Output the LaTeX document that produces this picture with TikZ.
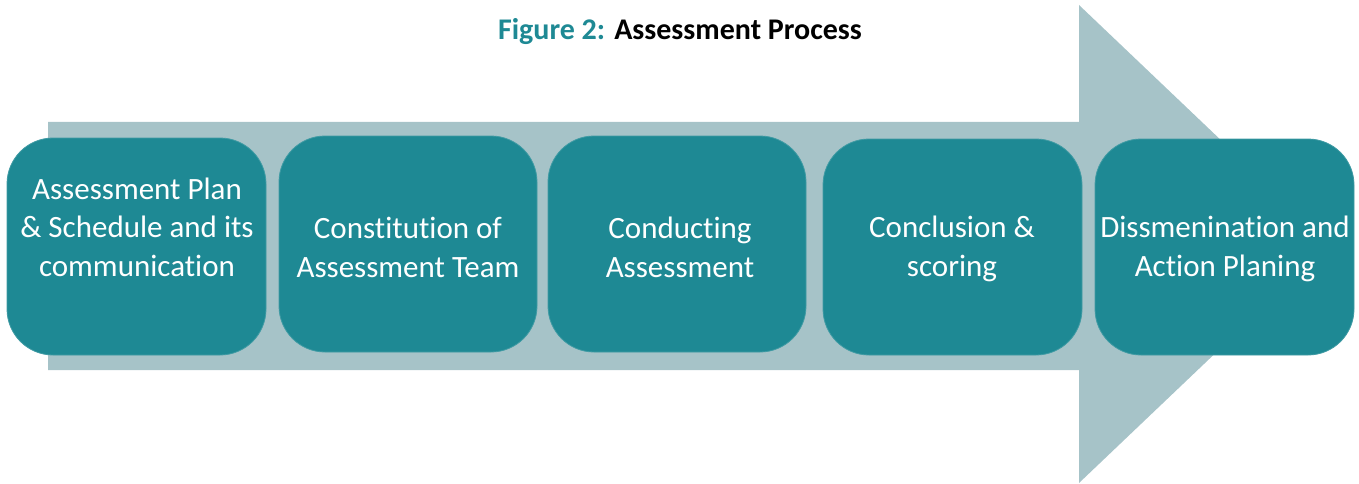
\documentclass[tikz,border=0pt]{standalone}
\usepackage{fontspec}
\setmainfont{Carlito}[Ligatures={NoCommon}]
\definecolor{teal1}{RGB}{30,137,148}
\definecolor{arrowgray}{RGB}{166,195,200}
\begin{document}
\begin{tikzpicture}[x=1pt,y=-1pt,
  stepbox/.style={fill=teal1, draw=teal1!85!white, line width=0.8pt, rounded corners=46pt, inner sep=0pt, minimum width=258pt, minimum height=216pt},
  steptext/.style={text=white, align=center, anchor=base, inner sep=0pt, font=\fontsize{31}{38.5}\selectfont}]
\useasboundingbox (0,0) rectangle (1359,484);
\fill[arrowgray] (48,122) -- (1079,122) -- (1079,5) -- (1330,244) -- (1079,483) -- (1079,370) -- (48,370) -- cycle;
\node[anchor=base, inner sep=0pt, font=\fontsize{30}{34}\selectfont\bfseries] (title) at (680,40) {\textcolor{teal1}{Figure 2:} Assessment Process};
\node[stepbox, minimum width=259pt, minimum height=217pt] (b1) at (136.5,246.5) {};
\node[stepbox] (b2) at (408,244) {};
\node[stepbox] (b3) at (677,244) {};
\node[stepbox, minimum width=259pt] (b4) at (952.5,247) {};
\node[stepbox, minimum width=259pt] (b5) at (1224.5,247) {};
\node[steptext] (t1) at (137,276) {Assessment Plan\\\& Schedule and its\\communication};
\node[steptext] (t2) at (408,277) {Constitution of\\Assessment Team};
\node[steptext] (t3) at (680,277) {Conducting\\Assessment};
\node[steptext] (t4) at (952,276) {Conclusion \&\\scoring};
\node[steptext] (t5) at (1225,276) {Dissmenination and\\Action Planing};
\end{tikzpicture}
\end{document}
